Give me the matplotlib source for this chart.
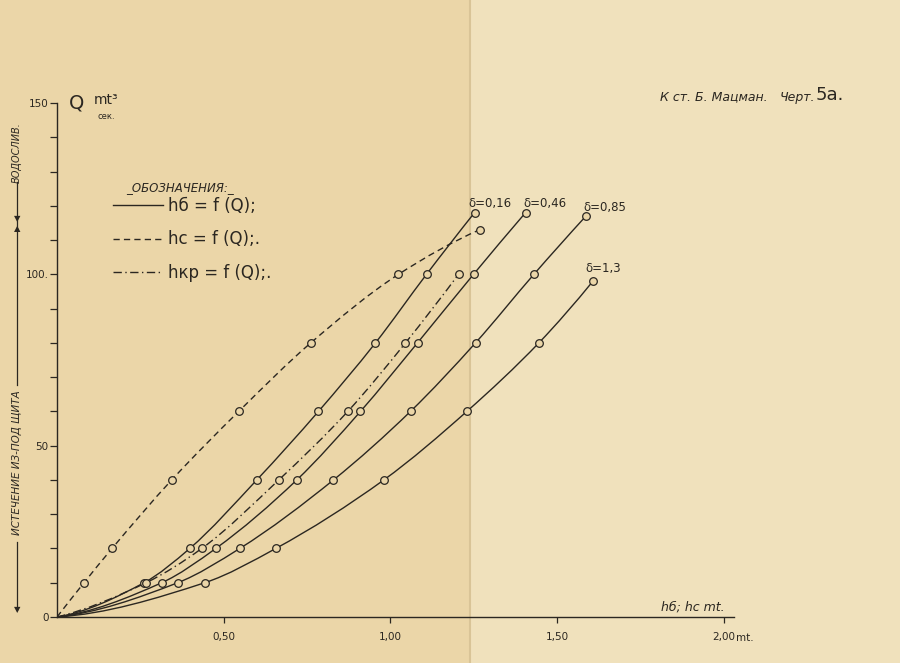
import matplotlib
matplotlib.use('Agg')
import matplotlib.pyplot as plt
import numpy as np
from matplotlib.path import Path
from matplotlib.patches import PathPatch, Rectangle
from matplotlib.lines import Line2D

q_hc = [0, 10, 20, 40, 60, 80, 100, 113]
h_c = [0, 0.081, 0.165, 0.344, 0.545, 0.761, 1.024, 1.267]

q_016 = [0, 10, 20, 40, 60, 80, 100, 118]
hb_016 = [0, 0.261, 0.398, 0.599, 0.784, 0.955, 1.108, 1.252]

q_kr = [0, 10, 20, 40, 60, 80, 100]
h_kr = [0, 0.267, 0.434, 0.665, 0.872, 1.045, 1.204]

q_046 = [0, 10, 20, 40, 60, 80, 100, 118]
hb_046 = [0, 0.314, 0.476, 0.719, 0.910, 1.081, 1.249, 1.405]

q_085 = [0, 10, 20, 40, 60, 80, 100, 117]
hb_085 = [0, 0.362, 0.548, 0.829, 1.060, 1.255, 1.430, 1.586]

q_13 = [0, 10, 20, 40, 60, 80, 98]
hb_13 = [0, 0.443, 0.656, 0.980, 1.229, 1.445, 1.607]

x_ticks = [0.5, 1.0, 1.5, 2.0]
x_ticklabels = ['0,50', '1,00', '1,50', '2,00']
y_ticks = list(range(0, 151, 10))
y_ticklabels = {0: '0', 50: '50', 100: '100.', 150: '150'}

ink = '#2b2721'
paper = '#ebd6a8'
paper_right = '#f0e1bc'


def smooth_path(xs, ys):
    # плавная кривая через точки (монотонные касательные), только для отрисовки
    x = np.asarray(xs, float)
    y = np.asarray(ys, float)
    h = np.diff(x)
    s = np.diff(y) / h
    n = len(x)
    d = np.zeros(n)
    for i in range(1, n - 1):
        if s[i - 1] * s[i] > 0:
            w1 = 2 * h[i] + h[i - 1]
            w2 = h[i] + 2 * h[i - 1]
            d[i] = (w1 + w2) / (w1 / s[i - 1] + w2 / s[i])
    d[0] = max(((2 * h[0] + h[1]) * s[0] - h[0] * s[1]) / (h[0] + h[1]), 0)
    d[-1] = max(((2 * h[-1] + h[-2]) * s[-1] - h[-1] * s[-2]) / (h[-1] + h[-2]), 0)
    verts = [(x[0], y[0])]
    codes = [Path.MOVETO]
    for i in range(n - 1):
        verts += [(x[i] + h[i] / 3, y[i] + d[i] * h[i] / 3),
                  (x[i + 1] - h[i] / 3, y[i + 1] - d[i + 1] * h[i] / 3),
                  (x[i + 1], y[i + 1])]
        codes += [Path.CURVE4] * 3
    return Path(verts, codes)


fig = plt.figure(figsize=(9, 6.63), dpi=100, facecolor=paper)
fig.add_artist(Rectangle((470 / 900, 0), 1 - 470 / 900, 1, transform=fig.transFigure,
                         color=paper_right, zorder=-10))
fig.add_artist(Line2D([470 / 900, 470 / 900], [0, 1], transform=fig.transFigure,
                      color='#d9c497', lw=1.5, zorder=-9))

ax = fig.add_axes([57 / 900, 46 / 663, 700 / 900, 514 / 663])
ax.set_facecolor('none')
ax.set_xlim(0, 2.099)
ax.set_ylim(0, 150)

curves = [
    (h_c, q_hc, (0, (4.5, 3))),
    (hb_016, q_016, 'solid'),
    (h_kr, q_kr, (0, (6, 2.5, 1, 2.5))),
    (hb_046, q_046, 'solid'),
    (hb_085, q_085, 'solid'),
    (hb_13, q_13, 'solid'),
]
for xs, qs, ls in curves:
    patch = PathPatch(smooth_path(xs, qs), facecolor='none', edgecolor=ink,
                      lw=1.0, linestyle=ls)
    ax.add_patch(patch)
    ax.plot(xs[1:], qs[1:], 'o', ls='none', ms=5.5, mfc=paper, mec=ink, mew=0.9, zorder=3)

# подписи кривых
for xs, qs, label, dx, dy in [(hb_016, q_016, 'δ=0,16', 15, 9),
                              (hb_046, q_046, 'δ=0,46', 19, 9),
                              (hb_085, q_085, 'δ=0,85', 19, 9),
                              (hb_13, q_13, 'δ=1,3', 10, 13)]:
    ax.annotate(label, (xs[-1], qs[-1]), xytext=(dx, dy), textcoords='offset pixels',
                ha='center', va='center', fontsize=8.5, color=ink)

for side in ['top', 'right']:
    ax.spines[side].set_visible(False)
ax.spines['left'].set_bounds(0, 150)
ax.spines['bottom'].set_bounds(0, 2.03)
for side in ['left', 'bottom']:
    ax.spines[side].set_color(ink)
    ax.spines[side].set_linewidth(1.0)

ax.set_xticks(x_ticks)
ax.set_xticklabels(x_ticklabels)
ax.set_yticks(y_ticks)
ax.set_yticklabels([y_ticklabels.get(v, '') for v in y_ticks])
ax.tick_params(axis='y', length=5, width=0.9, colors=ink, pad=1, labelsize=7.5)
ax.tick_params(axis='x', length=4, width=0.9, colors=ink, pad=7, labelsize=7.5)

ax.text(2.035, -6.0, 'mt.', fontsize=7.5, color=ink, va='center')
ax.text(1.81, 0.9, 'hб; hc mt.', fontsize=9, color=ink, style='italic', va='bottom')

# ось Q
ax.text(0.035, 150, 'Q', fontsize=14, color=ink, va='center', ha='left', clip_on=False)
ax.text(0.11, 151, 'mt³', fontsize=10, color=ink, va='center', ha='left', clip_on=False)
ax.text(0.12, 146.2, 'сек.', fontsize=6, color=ink, va='center', ha='left', clip_on=False)

# обозначения
ax.text(0.37, 125.2, '_ОБОЗНАЧЕНИЯ:_', fontsize=8.5, color=ink, style='italic',
        ha='center', va='center')
handles = [Line2D([], [], color=ink, lw=1.0),
           Line2D([], [], color=ink, lw=1.0, ls=(0, (4.5, 3))),
           Line2D([], [], color=ink, lw=1.0, ls=(0, (6, 2.5, 1, 2.5)))]
labels = ['hб = f (Q);', 'hc = f (Q);.', 'hкр = f (Q);.']
ax.legend(handles, labels, loc='upper left', bbox_to_anchor=(0.068, 0.834),
          frameon=False, borderpad=0, handlelength=3.0, handletextpad=0.3,
          labelspacing=0.95, fontsize=12, labelcolor=ink)

# слева: водослив / истечение из-под щита
x0 = 17 / 900


def fy(py):
    return 1 - py / 663


fig.text(x0, fy(153), 'ВОДОСЛИВ.', rotation=90, ha='center', va='center',
         fontsize=7, color=ink, style='italic')
fig.add_artist(Line2D([x0, x0], [fy(182), fy(228)], transform=fig.transFigure, color=ink, lw=0.9))
fig.add_artist(Line2D([x0, x0], [fy(228), fy(385)], transform=fig.transFigure, color=ink, lw=0.9))
fig.text(x0, fy(463), 'ИСТЕЧЕНИЕ ИЗ-ПОД ЩИТА', rotation=90, ha='center', va='center',
         fontsize=7.5, color=ink, style='italic')
fig.add_artist(Line2D([x0, x0], [fy(542), fy(610)], transform=fig.transFigure, color=ink, lw=0.9))
fig.text(x0, fy(219), '▼', ha='center', va='center', fontsize=6, color=ink)
fig.text(x0, fy(229), '▲', ha='center', va='center', fontsize=6, color=ink)
fig.text(x0, fy(610), '▼', ha='center', va='center', fontsize=6, color=ink)

fig.text(660 / 900, fy(97), 'К ст. Б. Мацман.', fontsize=9, color=ink, style='italic',
         va='center')
fig.text(780 / 900, fy(97), 'Черт.', fontsize=9, color=ink, style='italic', va='center')
fig.text(816 / 900, fy(95), '5а.', fontsize=13, color=ink, va='center')

fig.savefig('out.png', dpi=100, facecolor=paper)
